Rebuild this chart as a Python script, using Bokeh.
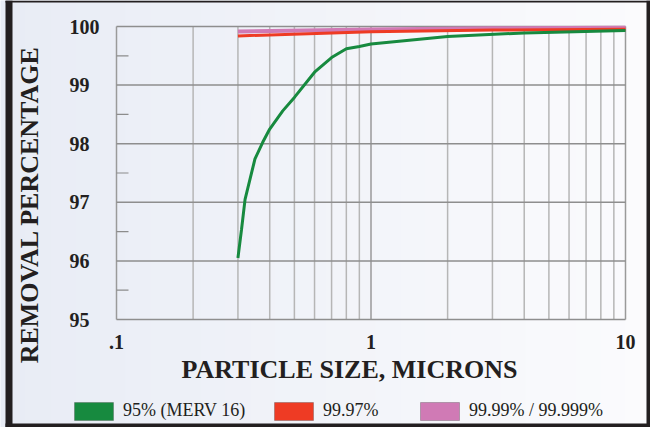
import math
from bokeh.plotting import figure
from bokeh.models import (BoxAnnotation, Label, Legend, LegendItem, ColumnDataSource)
from bokeh.core.properties import value
from bokeh.embed import file_html
from bokeh.resources import INLINE

# ---------------- data ----------------
size_merv16 = [0.3, 0.31, 0.32, 0.35, 0.375, 0.4, 0.45, 0.5, 0.6, 0.7, 0.8, 0.9, 1.0, 2.0, 4.0, 10.0]
removal_merv16 = [96.05, 96.54, 97.05, 97.74, 98.02, 98.25, 98.56, 98.79, 99.22, 99.47, 99.62, 99.66, 99.70, 99.83, 99.89, 99.93]

size_9997 = [0.3, 1.0, 3.0, 10.0]
removal_9997 = [99.84, 99.91, 99.94, 99.955]

size_9999 = [0.3, 1.0, 3.0, 10.0]
removal_9999 = [99.915, 99.95, 99.97, 99.98]

series_names = ["95% (MERV 16)", "99.97%", "99.99% / 99.999%"]
series_colors = ["#178a3f", "#ee3b24", "#d07ab5"]

y_ticks = [95, 96, 97, 98, 99, 100]
y_tick_labels = ["95", "96", "97", "98", "99", "100"]
y_minor_ticks = [95.5, 96.5, 97.5, 98.5, 99.5]
x_ticks = [0.1, 1, 10]
x_tick_labels = [".1", "1", "10"]
x_minor_ticks = [0.2, 0.3, 0.4, 0.5, 0.6, 0.7, 0.8, 0.9, 2, 3, 4, 5, 6, 7, 8, 9]

x_title = "PARTICLE SIZE, MICRONS"
y_title = "REMOVAL PERCENTAGE"

# ---------------- layout (canvas pixels) ----------------
W, H = 650, 427
PL, PR, PT, PB = 116, 625, 26, 319          # plot area box inside the canvas
px_per_dec = (PR - PL) / math.log10(x_ticks[-1] / x_ticks[0])
px_per_unit = (PB - PT) / (y_ticks[-1] - y_ticks[0])
x_start = x_ticks[0] * 10 ** (-PL / px_per_dec)
x_end = x_ticks[-1] * 10 ** ((W - PR) / px_per_dec)
y_start = y_ticks[0] - (H - PB) / px_per_unit
y_end = y_ticks[-1] + PT / px_per_unit

dark = "#231f20"
serif = "Liberation Serif"

p = figure(width=W, height=H, x_axis_type="log", x_range=(x_start, x_end),
           y_range=(y_start, y_end), output_backend="svg", toolbar_location=None,
           x_axis_location=None, y_axis_location=None, min_border=0)
p.grid.visible = False
p.outline_line_color = None
p.background_fill_color = "#eef1f7"
p.border_fill_color = "#eef1f7"

# gradient background (left bluish grey -> right near white)
n_strips = 26
c0 = (0xe8, 0xec, 0xf5)
c1 = (0xfb, 0xfb, 0xfd)
for i in range(n_strips):
    t = i / (n_strips - 1)
    col = "#%02x%02x%02x" % tuple(int(round(a + (b - a) * t)) for a, b in zip(c0, c1))
    p.add_layout(BoxAnnotation(left=i * W / n_strips, right=(i + 1) * W / n_strips + 1,
                               bottom=0, top=H,
                               left_units="screen", right_units="screen",
                               top_units="screen", bottom_units="screen",
                               fill_color=col, fill_alpha=1, line_color=None, level="image"))

# dark frame
for (l, r, b, t) in [(5, 12, 0, H), (5, W, H - 2, H), (W - 4, W, 0, H), (5, W, 0, 4)]:
    p.add_layout(BoxAnnotation(left=l, right=r, bottom=b, top=t,
                               left_units="screen", right_units="screen",
                               top_units="screen", bottom_units="screen",
                               fill_color=dark, fill_alpha=1, line_color=None, level="overlay"))

# grid lines (vertical: log decades and sub-decades; horizontal: integer %)
y_lo, y_hi = y_ticks[0], y_ticks[-1]
x_lo, x_hi = x_ticks[0], x_ticks[-1]
p.segment(x0=x_minor_ticks, y0=[y_lo] * len(x_minor_ticks), x1=x_minor_ticks,
          y1=[y_hi] * len(x_minor_ticks), line_color="#b6b6b6", line_width=1.5)
p.segment(x0=x_ticks, y0=[y_lo] * len(x_ticks), x1=x_ticks, y1=[y_hi] * len(x_ticks),
          line_color="#9a9a9a", line_width=1.5)
p.segment(x0=[x_lo] * len(y_ticks), y0=y_ticks, x1=[x_hi] * len(y_ticks), y1=y_ticks,
          line_color="#8e8e8e", line_width=1.5)
# minor ticks on the left edge
p.ray(x=[x_lo] * len(y_minor_ticks), y=y_minor_ticks, length=12, length_units="screen",
      angle=0, line_color="#8c8c8c", line_width=1.2)

# tick labels
p.text(x=x_ticks, y=[y_lo] * len(x_ticks), text=x_tick_labels, y_offset=22,
       text_align="center", text_baseline="middle", text_font=value(serif),
       text_font_style="bold", text_font_size="20px", text_color=dark)
p.text(x=[x_lo] * len(y_ticks), y=y_ticks, text=y_tick_labels, x_offset=-47,
       text_align="left", text_baseline="middle", text_font=value(serif),
       text_font_style="bold", text_font_size="20px", text_color=dark)

# titles
p.add_layout(Label(x=349, y=H - 369, x_units="screen", y_units="screen", text=x_title,
                   text_align="center", text_baseline="middle",
                   text_font=serif, text_font_style="bold",
                   text_font_size="26px", text_color=dark))
p.add_layout(Label(x=29, y=H - 204, x_units="screen", y_units="screen", text=y_title,
                   angle=math.pi / 2, text_align="center", text_baseline="middle",
                   text_font=serif, text_font_style="bold",
                   text_font_size="26px", text_color=dark))

# lines
p.line(size_9999, removal_9999, line_color=series_colors[2], line_width=4)
p.line(size_9997, removal_9997, line_color=series_colors[1], line_width=3)
p.line(size_merv16, removal_merv16, line_color=series_colors[0], line_width=3)

# legend, one legend per entry to match the uneven spacing; swatch boxes drawn as boxes
legend_x = [69, 269, 415]
for name, col, lx in zip(series_names, series_colors, legend_x):
    src = ColumnDataSource(dict(left=[], right=[], top=[], bottom=[]))
    r = p.quad(left="left", right="right", top="top", bottom="bottom", source=src,
               fill_color=col, line_color="#3a3a3a", line_width=1)
    lg = Legend(items=[LegendItem(label=name, renderers=[r])], location=(lx, 6),
                orientation="horizontal", padding=0, margin=0, border_line_color=None,
                background_fill_alpha=0, glyph_width=49, glyph_height=22, label_standoff=5,
                label_text_font=serif, label_text_font_size="18px",
                label_text_color=dark)
    p.add_layout(lg)
    gx = lx + 5
    p.add_layout(BoxAnnotation(left=gx, right=gx + 39, bottom=7, top=25,
                               left_units="screen", right_units="screen",
                               top_units="screen", bottom_units="screen",
                               fill_color=col, fill_alpha=1, line_color="#3a3a3a",
                               line_width=1, level="overlay"))

open("out.html", "w").write(file_html(p, INLINE))
